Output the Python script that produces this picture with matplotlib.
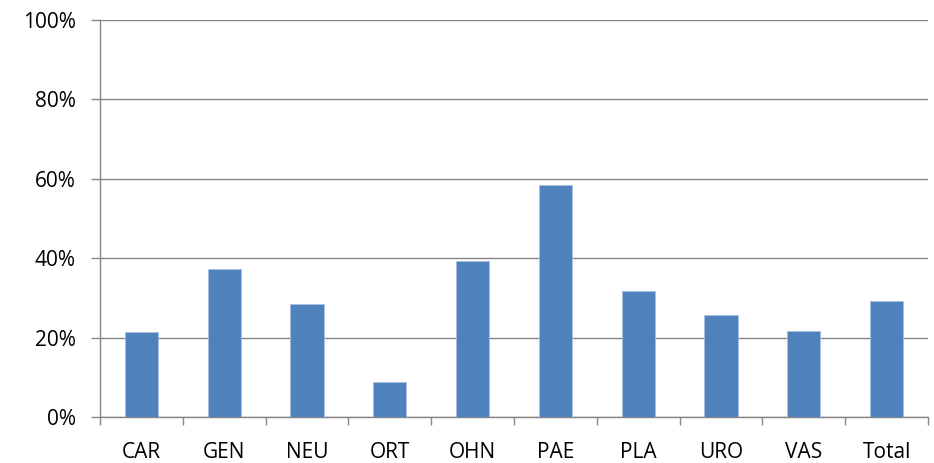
import matplotlib
matplotlib.use("Agg")
import matplotlib.pyplot as plt
import numpy as np
from matplotlib.ticker import FixedLocator, PercentFormatter

categories = ["CAR", "GEN", "NEU", "ORT", "OHN", "PAE", "PLA", "URO", "VAS", "Total"]
values = [21.4, 37.2, 28.4, 8.7, 39.2, 58.4, 31.7, 25.6, 21.7, 29.2]
yticks = [0, 20, 40, 60, 80, 100]

plt.rcParams['font.family'] = ['Open Sans', 'DejaVu Sans']

fig = plt.figure(figsize=(9.34, 4.63), dpi=100)
ax = fig.add_axes([100/934, 1 - 417/463, 828/934, 397/463])

x = np.arange(len(categories))
ax.bar(x, values, width=0.4, color="#4F81BD", edgecolor="#A7BFDE", linewidth=0.6, zorder=3)

ax.set_xlim(-0.5, len(categories) - 0.5)
ax.set_ylim(0, 100)
ax.set_yticks(yticks)
ax.yaxis.set_major_formatter(PercentFormatter(decimals=0))
ax.set_xticks(x)
ax.set_xticklabels(categories)
ax.xaxis.set_minor_locator(FixedLocator(np.arange(-0.5, len(categories), 1.0)))
ax.tick_params(axis="x", which="major", length=0, pad=18, labelsize=15)
ax.tick_params(axis="x", which="minor", length=6, color="#868686", width=1)
ax.tick_params(axis="y", length=6.5, color="#868686", width=1, labelsize=15, pad=11)

ax.grid(axis="y", color="#868686", linewidth=1, zorder=0)
for s in ["top", "right"]:
    ax.spines[s].set_visible(False)
for s in ["left", "bottom"]:
    ax.spines[s].set_color("#868686")
    ax.spines[s].set_linewidth(1)

fig.savefig("out.png", dpi=100)
